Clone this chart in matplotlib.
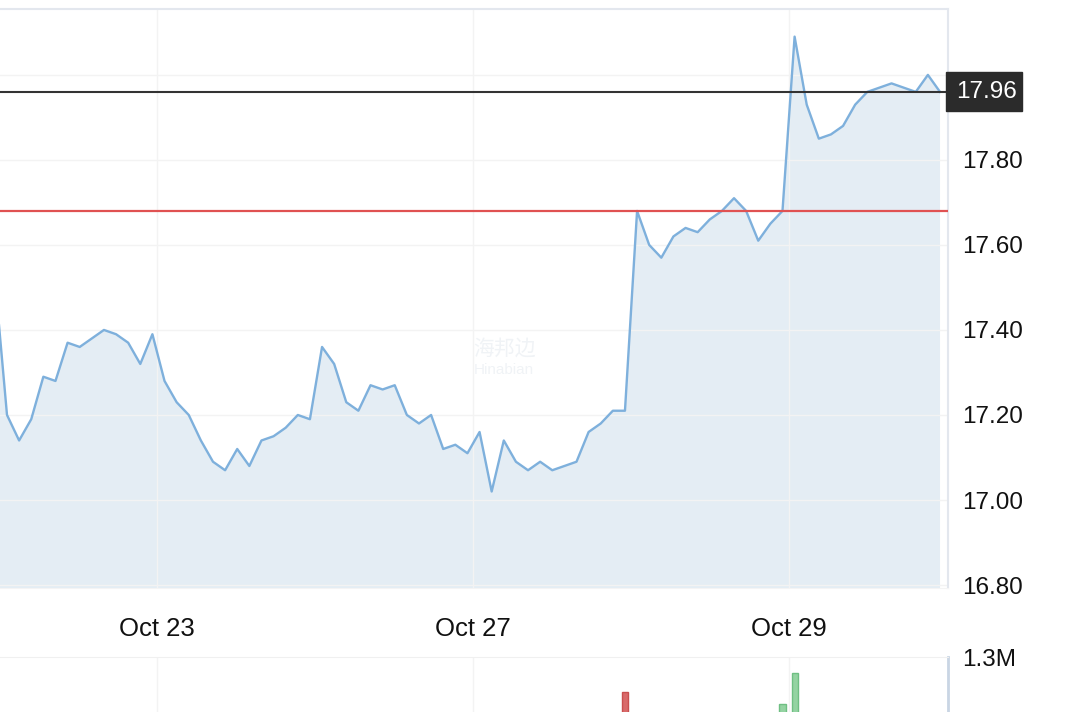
import matplotlib.pyplot as plt
from matplotlib.patches import Rectangle

# price series (one point per session slot)
prices = [17.52, 17.20, 17.14, 17.19, 17.29, 17.28, 17.37, 17.36, 17.38, 17.40,
          17.39, 17.37, 17.32, 17.39, 17.28, 17.23, 17.20, 17.14, 17.09, 17.07,
          17.12, 17.08, 17.14, 17.15, 17.17, 17.20, 17.19, 17.36, 17.32, 17.23,
          17.21, 17.27, 17.26, 17.27, 17.20, 17.18, 17.20, 17.12, 17.13, 17.11,
          17.16, 17.02, 17.14, 17.09, 17.07, 17.09, 17.07, 17.08, 17.09, 17.16,
          17.18, 17.21, 17.21, 17.68, 17.60, 17.57, 17.62, 17.64, 17.63, 17.66,
          17.68, 17.71, 17.68, 17.61, 17.65, 17.68, 18.09, 17.93, 17.85, 17.86,
          17.88, 17.93, 17.96, 17.97, 17.98, 17.97, 17.96, 18.00, 17.96]

# visible volume bars (index, volume, up/down)
vol_idx = [52, 65, 66]
vol_vals = [1.00e6, 0.90e6, 1.16e6]
vol_up = [False, True, True]

date_labels = ["Oct 23", "Oct 27", "Oct 29"]
date_pos = [13.38, 39.46, 65.54]
price_ticks = [16.80, 17.00, 17.20, 17.40, 17.60, 17.80]
last_price = 17.96
ref_price = 17.68

plt.rcParams['font.family'] = ['Liberation Sans', 'DejaVu Sans']

W, H = 1080, 712
fig = plt.figure(figsize=(W / 100, H / 100), dpi=100)

line_c = "#7eb0dc"
fill_c = "#e4edf4"
grid_c = "#f3f3f3"
border_c = "#e3e7ee"

x = list(range(len(prices)))
xmin, xmax = 0.422, 78.66

# main price panel
ax = fig.add_axes([0, 1 - 588 / H, 948 / W, 579 / H])
ax.fill_between(x, prices, 16.0, color=fill_c, zorder=1, lw=0)
ax.plot(x, prices, color=line_c, lw=1.7, zorder=3)
ax.axhline(ref_price, color="#e05252", lw=1.6, zorder=4)
ax.axhline(last_price, color="#333333", lw=1.5, zorder=4)
ax.set_xlim(xmin, xmax)
ax.set_ylim(16.793, 18.155)
ax.set_yticks(price_ticks + [18.00])
ax.set_yticklabels([f"{v:.2f}" for v in price_ticks] + [""])
ax.yaxis.tick_right()
ax.set_xticks(date_pos)
ax.set_xticklabels(date_labels)
ax.tick_params(axis="both", length=0, labelsize=17.5, colors="#111111")
ax.tick_params(axis="x", labelsize=18.5, pad=21)
ax.tick_params(axis="y", pad=10)
ax.grid(True, color=grid_c, lw=1, zorder=0)
ax.spines["left"].set_visible(False)
ax.spines["top"].set_color(border_c)
ax.spines["right"].set_color(border_c)
ax.spines["bottom"].set_color("#f4f4f4")
ax.spines["top"].set_linewidth(1.5)
ax.spines["right"].set_linewidth(1.5)

# last price box
fig.add_artist(Rectangle((946 / W, 1 - 111 / H), 76 / W, 39 / H,
                         transform=fig.transFigure, color="#2b2b2b", zorder=10))
fig.text(987 / W, 1 - 92 / H, f"{last_price:.2f}", color="white",
         fontsize=17.5, ha="center", va="center", zorder=11)

# faint watermark
fig.text(505 / W, 1 - 349 / H, "海邦边", family=["Noto Sans CJK SC", "DejaVu Sans"],
         fontsize=15, color="#f0f3f6", ha="center", va="center", zorder=5)
fig.text(504 / W, 1 - 370 / H, "Hinabian", fontsize=11, color="#f0f3f6",
         ha="center", va="center", zorder=5)

# volume panel (runs off the bottom of the picture)
vax = fig.add_axes([0, 1 - 810 / H, 948 / W, 153 / H])
colors = ["#94d3a2" if u else "#d96a6a" for u in vol_up]
edges = ["#6fbf83" if u else "#c94f4f" for u in vol_up]
vax.bar(vol_idx, vol_vals, width=0.5, color=colors, edgecolor=edges, lw=1, zorder=3)
vax.set_xlim(xmin, xmax)
vax.set_ylim(0, 1.3e6)
vax.set_yticks([1.3e6])
vax.set_yticklabels(["1.3M"])
vax.yaxis.tick_right()
vax.set_xticks(date_pos)
vax.set_xticklabels([])
vax.tick_params(axis="both", length=0, labelsize=17.5, colors="#111111")
vax.tick_params(axis="y", pad=10)
vax.grid(True, axis="x", color=grid_c, lw=1, zorder=0)
vax.spines["left"].set_visible(False)
vax.spines["bottom"].set_visible(False)
vax.spines["top"].set_color("#f0f0f0")
vax.spines["right"].set_color("#c9d5e4")
vax.spines["right"].set_linewidth(2)

fig.savefig("out.png", dpi=100)
